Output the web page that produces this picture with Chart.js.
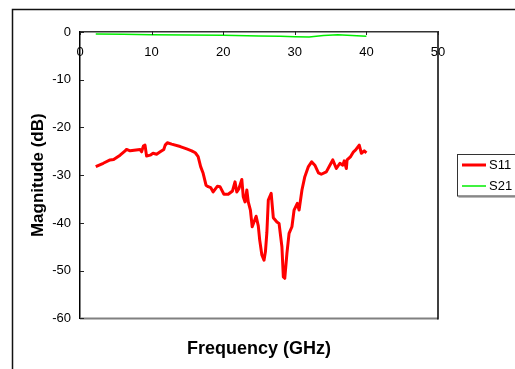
<!DOCTYPE html>
<html>
<head>
<meta charset="utf-8">
<title>S11 / S21</title>
<script src="https://cdn.jsdelivr.net/npm/chart.js@4.4.1/dist/chart.umd.min.js"></script>
<style>
    html, body { margin: 0; padding: 0; background: #ffffff; }
    #wrap { position: relative; width: 515px; height: 369px; overflow: hidden; }
</style>
</head>
<body>
<div id="wrap"><canvas id="sparamChart" width="515" height="369"></canvas></div>
<script>
// Données
const s11Freq = [2.2, 3.25, 4.2, 4.7, 5.6, 6.3, 6.5, 7.0, 8.4, 8.6, 8.85, 9.08, 9.3, 9.8, 10.2, 10.7,
    11.2, 11.7, 11.9, 12.2, 12.8, 14.0, 14.9, 15.6, 16.1, 16.5, 16.85, 17.2, 17.6, 17.9, 18.25,
    18.6, 19.2, 19.55, 20.1, 20.7, 21.3, 21.65, 21.9, 22.2, 22.6, 22.8, 23.05, 23.3, 23.5, 23.8,
    24.05, 24.6, 24.9, 25.1, 25.4, 25.7, 25.9, 26.1, 26.3, 26.7, 27.0, 27.5, 27.8, 28.2, 28.4,
    28.6, 28.9, 29.2, 29.6, 29.9, 30.35, 30.6, 31.0, 31.4, 31.9, 32.35, 32.8, 33.3, 33.7, 34.4,
    34.9, 35.3, 35.8, 36.3, 36.7, 36.9, 37.2, 37.3, 37.8, 38.2, 38.5, 39.0, 39.3, 39.7, 40.0];
const s11Values = [-28.2, -27.5, -26.8, -26.7, -25.8, -24.9, -24.6, -24.9, -24.6, -25.1, -23.9, -23.7, -26.0, -25.8, -25.4, -25.6,
    -25.1, -24.6, -23.7, -23.2, -23.5, -24.0, -24.5, -24.9, -25.3, -26.1, -28.2, -29.6, -32.1, -32.4, -32.6,
    -33.5, -32.3, -32.4, -34.0, -34.0, -33.3, -31.4, -33.5, -32.8, -30.9, -34.5, -35.6, -33.1, -35.6, -37.3,
    -40.8, -38.6, -40.6, -43.6, -46.7, -47.8, -46.0, -42.0, -35.2, -33.8, -38.9, -39.8, -40.1, -45.0, -51.3,
    -51.6, -46.4, -42.2, -40.8, -37.3, -35.9, -37.3, -33.1, -30.3, -28.2, -27.2, -27.9, -29.5, -29.8, -29.3,
    -27.9, -26.8, -28.6, -27.5, -27.9, -27.0, -28.6, -26.8, -26.1, -25.1, -24.7, -23.7, -25.4, -24.9, -25.3];

const s21Freq = [2.2, 6, 10, 15, 20, 25, 28, 30, 32, 34, 36, 38, 40];
const s21Values = [-0.4, -0.45, -0.55, -0.65, -0.7, -0.85, -0.9, -1.0, -1.05, -0.75, -0.6, -0.75, -0.9];

const seriesNames = ['S11', 'S21'];
const seriesColors = ['#ff0000', '#00ee00'];

const xTicks = [0, 10, 20, 30, 40, 50];
const yTicks = [0, -10, -20, -30, -40, -50, -60];

const FONT = 'Liberation Sans, Arial, sans-serif';

function toPoints(xs, ys) {
    return xs.map((x, i) => ({ x: x, y: ys[i] }));
}

// Cadre extérieur (coin haut-gauche visible)
const framePlugin = {
    id: 'frame',
    beforeDraw(chart) {
        const ctx = chart.ctx;
        ctx.save();
        ctx.strokeStyle = '#111111';
        ctx.lineWidth = 1.5;
        ctx.beginPath();
        ctx.moveTo(12.5, 369);
        ctx.lineTo(12.5, 9.5);
        ctx.lineTo(520, 9.5);
        ctx.stroke();
        ctx.restore();
    }
};

// Bordures de la zone de tracé + graduations intérieures
const plotAreaPlugin = {
    id: 'plotArea',
    afterDatasetsDraw(chart) {
        const ctx = chart.ctx;
        const area = chart.chartArea;
        const xScale = chart.scales.x;
        const yScale = chart.scales.y;
        ctx.save();
        ctx.strokeStyle = '#808080';
        ctx.lineWidth = 2;
        ctx.beginPath();
        ctx.moveTo(area.left, area.bottom);
        ctx.lineTo(area.right, area.bottom);
        ctx.stroke();

        ctx.strokeStyle = '#000000';
        ctx.lineWidth = 1.5;
        ctx.beginPath();
        ctx.moveTo(area.right, area.top);
        ctx.lineTo(area.right, area.bottom + 1);
        ctx.stroke();

        ctx.lineWidth = 1;
        ctx.strokeStyle = '#222222';
        ctx.beginPath();
        yScale.ticks.forEach(t => {
            const py = Math.round(yScale.getPixelForValue(t.value)) + 0.5;
            ctx.moveTo(area.left, py);
            ctx.lineTo(area.left + 4, py);
        });
        xScale.ticks.forEach(t => {
            const px = Math.round(xScale.getPixelForValue(t.value)) + 0.5;
            ctx.moveTo(px, area.top - 1);
            ctx.lineTo(px, area.top + 3);
        });
        ctx.stroke();
        ctx.restore();
    }
};

// Légende encadrée à droite (coupée par le bord)
const legendBoxPlugin = {
    id: 'legendBox',
    afterDraw(chart) {
        const ctx = chart.ctx;
        const left = 457.5, top = 154.5, height = 41.5;
        ctx.save();
        ctx.fillStyle = '#ffffff';
        ctx.fillRect(left, top, 80, height);
        ctx.strokeStyle = '#333333';
        ctx.lineWidth = 1;
        ctx.strokeRect(left, top, 80, height);
        ctx.strokeStyle = '#777777';
        ctx.beginPath();
        ctx.moveTo(left + 1, top + height + 1);
        ctx.lineTo(520, top + height + 1);
        ctx.stroke();

        ctx.font = '13px ' + FONT;
        ctx.textBaseline = 'middle';
        ctx.fillStyle = '#000000';
        chart.data.datasets.forEach((ds, i) => {
            const cy = 165 + i * 21;
            ctx.strokeStyle = ds.borderColor;
            ctx.lineWidth = i === 0 ? 3 : 1.5;
            ctx.beginPath();
            ctx.moveTo(462, cy);
            ctx.lineTo(486, cy);
            ctx.stroke();
            ctx.fillText(ds.label, 489, cy);
        });
        ctx.restore();
    }
};

function buildChart() {
    const ctx = document.getElementById('sparamChart');
    new Chart(ctx, {
        type: 'line',
        data: {
            datasets: [{
                label: seriesNames[0],
                data: toPoints(s11Freq, s11Values),
                borderColor: seriesColors[0],
                borderWidth: 3,
                borderJoinStyle: 'round',
                pointRadius: 0,
                tension: 0,
                fill: false
            }, {
                label: seriesNames[1],
                data: toPoints(s21Freq, s21Values),
                borderColor: seriesColors[1],
                borderWidth: 1.5,
                pointRadius: 0,
                tension: 0,
                fill: false
            }]
        },
        options: {
            responsive: false,
            animation: false,
            events: [],
            layout: { padding: { left: 0, right: 77, top: 32, bottom: 0 } },
            scales: {
                x: {
                    type: 'linear',
                    position: { y: 0 },
                    min: 0,
                    max: 50,
                    afterBuildTicks(scale) {
                        scale.ticks = xTicks.map(v => ({ value: v }));
                    },
                    grid: { display: false, drawTicks: false },
                    border: { display: true, color: '#333333', width: 1.5 },
                    ticks: {
                        padding: 13,
                        maxRotation: 0,
                        color: '#000000',
                        font: { family: FONT, size: 13 }
                    }
                },
                y: {
                    type: 'linear',
                    position: 'left',
                    min: -60,
                    max: 0,
                    afterBuildTicks(scale) {
                        scale.ticks = yTicks.map(v => ({ value: v }));
                    },
                    afterFit(scale) {
                        scale.width = 80;
                    },
                    grid: { display: false, drawTicks: false },
                    border: { display: true, color: '#000000', width: 1.5 },
                    ticks: {
                        padding: 9,
                        color: '#000000',
                        font: { family: FONT, size: 13 }
                    },
                    title: {
                        display: true,
                        text: 'Magnitude (dB)',
                        color: '#000000',
                        font: { family: FONT, size: 17, weight: 'bold' },
                        padding: { top: 28, bottom: 0 }
                    }
                }
            },
            plugins: {
                legend: { display: false },
                tooltip: { enabled: false },
                title: {
                    display: true,
                    position: 'bottom',
                    fullSize: false,
                    text: 'Frequency (GHz)',
                    color: '#000000',
                    font: { family: FONT, size: 18, weight: 'bold' },
                    padding: { top: 20, bottom: 9 }
                }
            }
        },
        plugins: [framePlugin, plotAreaPlugin, legendBoxPlugin]
    });
}

document.addEventListener('DOMContentLoaded', buildChart);
</script>
</body>
</html>
